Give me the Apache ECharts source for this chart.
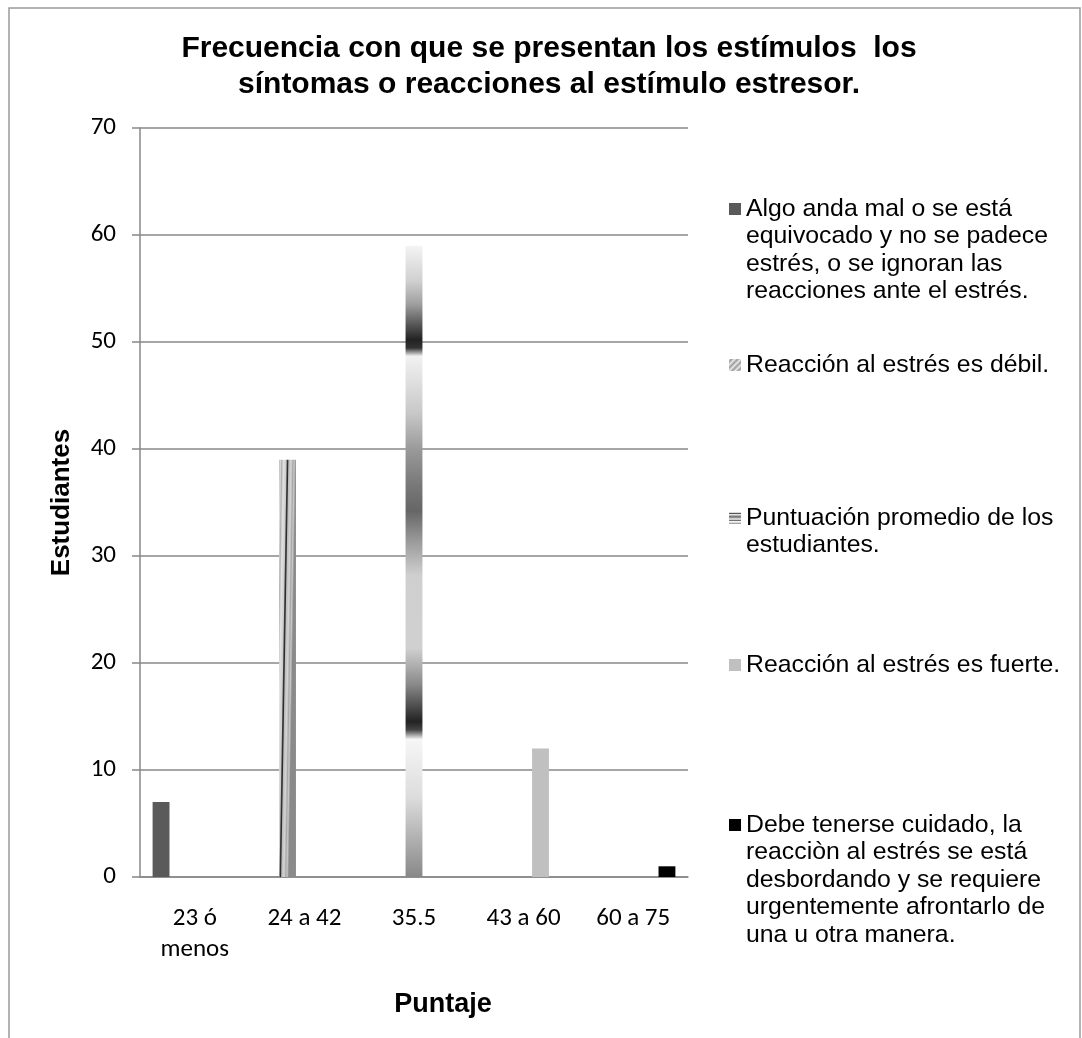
<!DOCTYPE html>
<html>
<head>
<meta charset="utf-8">
<script src="https://cdn.jsdelivr.net/npm/echarts@6/dist/echarts.min.js"></script>
<style>
  html, body { margin: 0; padding: 0; background: #ffffff; }
  #chart { width: 1082px; height: 1038px; }
</style>
</head>
<body>
<div id="chart"></div>
<script>
// Score ranges on the category axis
const categories = ['23 ó\nmenos', '24 a 42', '35.5', '43 a 60', '60 a 75'];

// Series names (one per interpretation band)
const seriesNames = [
  'Algo anda mal o se está equivocado y no se padece estrés, o se ignoran las reacciones ante el estrés.',
  'Reacción al estrés es débil.',
  'Puntuación promedio de los estudiantes.',
  'Reacción al estrés es fuerte.',
  'Debe tenerse cuidado, la reacciòn al estrés se está desbordando y se requiere urgentemente afrontarlo de una u otra manera.'
];

// Legend text broken into lines
const legendLines = [
  ['Algo anda mal o se está', 'equivocado y no se padece', 'estrés, o se ignoran las', 'reacciones ante el estrés.'],
  ['Reacción al estrés es débil.'],
  ['Puntuación promedio de los', 'estudiantes.'],
  ['Reacción al estrés es fuerte.'],
  ['Debe tenerse cuidado, la', 'reacciòn al estrés se está', 'desbordando y se requiere', 'urgentemente afrontarlo de', 'una u otra manera.']
];

// Number of students per series
const valuesAlgoAnda   = [7, null, null, null, null];
const valuesDebil      = [null, 39, null, null, null];
const valuesPromedio   = [null, null, 59, null, null];
const valuesFuerte     = [null, null, null, 12, null];
const valuesDesborda   = [null, null, null, null, 1];

// Value axis range
const yMin = 0, yMax = 70, yStep = 10;

const seriesValues = [valuesAlgoAnda, valuesDebil, valuesPromedio, valuesFuerte, valuesDesborda];

const G = echarts.graphic.LinearGradient;

// Metallic striped fill, slightly slanted
const fillDebil = new G(0, 0, 1, 0.0007, [
  { offset: 0.00, color: '#b4b4b4' },
  { offset: 0.08, color: '#dadada' },
  { offset: 0.16, color: '#b0b0b0' },
  { offset: 0.26, color: '#e2e2e2' },
  { offset: 0.42, color: '#cccccc' },
  { offset: 0.48, color: '#3a3a3a' },
  { offset: 0.52, color: '#2a2a2a' },
  { offset: 0.58, color: '#bcbcbc' },
  { offset: 0.72, color: '#d4d4d4' },
  { offset: 0.82, color: '#a8a8a8' },
  { offset: 0.90, color: '#c8c8c8' },
  { offset: 1.00, color: '#8a8a8a' }
]);

// Banded vertical fill
const fillPromedio = new G(0, 0, 0, 1, [
  { offset: 0.000, color: '#f4f4f4' },
  { offset: 0.056, color: '#d0d0d0' },
  { offset: 0.092, color: '#a0a0a0' },
  { offset: 0.149, color: '#222222' },
  { offset: 0.162, color: '#333333' },
  { offset: 0.175, color: '#f2f2f2' },
  { offset: 0.265, color: '#c8c8c8' },
  { offset: 0.322, color: '#9a9a9a' },
  { offset: 0.380, color: '#787878' },
  { offset: 0.420, color: '#666666' },
  { offset: 0.467, color: '#999999' },
  { offset: 0.522, color: '#cfcfcf' },
  { offset: 0.638, color: '#d0d0d0' },
  { offset: 0.696, color: '#888888' },
  { offset: 0.754, color: '#222222' },
  { offset: 0.767, color: '#444444' },
  { offset: 0.782, color: '#f6f6f6' },
  { offset: 0.875, color: '#dcdcdc' },
  { offset: 1.000, color: '#888888' }
]);

// Diagonal hatch for the legend key of the second series
const hatchDebil = new G(0, 0, 1, 1, [
  { offset: 0.00, color: '#e8e8e8' }, { offset: 0.12, color: '#9c9c9c' },
  { offset: 0.25, color: '#e8e8e8' }, { offset: 0.37, color: '#9c9c9c' },
  { offset: 0.50, color: '#e8e8e8' }, { offset: 0.62, color: '#9c9c9c' },
  { offset: 0.75, color: '#e8e8e8' }, { offset: 0.87, color: '#9c9c9c' },
  { offset: 1.00, color: '#e8e8e8' }
]);

const fills = ['#5a5a5a', fillDebil, fillPromedio, '#c0c0c0', '#000000'];

// First-line centre of each legend entry
const legendFirstLineY = [209, 365, 518, 665, 825];
const LINE_H = 27.5;

const legendFont = '"Liberation Sans", Arial, sans-serif';
const tickFont = 'Carlito, Lato, "Open Sans", sans-serif';

// Each entry gets its own legend so the entries can sit at their own heights.
// Blank lines before the text keep the key square level with the first line.
const legends = seriesNames.map((name, i) => {
  const n = legendLines[i].length;
  const item = { name: name, icon: 'rect' };
  if (i === 1) item.itemStyle = { color: hatchDebil };
  const padded = new Array(n - 1).fill('').concat(legendLines[i]).join('\n');
  return {
    data: [item],
    left: 729,
    top: legendFirstLineY[i] - (2 * n - 1) * LINE_H / 2,
    orient: 'vertical',
    padding: 0,
    itemWidth: 12,
    itemHeight: 12,
    itemGap: 0,
    selectedMode: false,
    formatter: () => padded,
    textStyle: {
      fontFamily: legendFont,
      fontSize: 24.8,
      color: '#000000',
      lineHeight: LINE_H
    }
  };
});

const chart = echarts.init(document.getElementById('chart'), null, { renderer: 'canvas' });

chart.setOption({
  backgroundColor: '#ffffff',
  animation: false,
  title: {
    text: 'Frecuencia con que se presentan los estímulos  los\nsíntomas o reacciones al estímulo estresor.',
    left: 549,
    textAlign: 'center',
    top: 31,
    padding: 0,
    textStyle: {
      fontFamily: legendFont,
      fontWeight: 'bold',
      fontSize: 30,
      lineHeight: 36,
      color: '#000000'
    }
  },
  legend: legends,
  grid: { left: 140, right: 394, top: 128, bottom: 161, containLabel: false },
  xAxis: {
    type: 'category',
    data: categories,
    name: 'Puntaje',
    nameLocation: 'middle',
    nameGap: 114,
    nameTextStyle: {
      fontFamily: legendFont,
      fontWeight: 'bold',
      fontSize: 27,
      color: '#000000',
      padding: [0, 0, 0, 58]
    },
    axisLine: { lineStyle: { color: '#888888', width: 1.5 } },
    axisTick: { show: false },
    axisLabel: {
      fontFamily: tickFont,
      fontSize: 25,
      color: '#000000',
      lineHeight: 31,
      margin: 26
    },
    splitLine: { show: false }
  },
  yAxis: {
    type: 'value',
    min: yMin,
    max: yMax,
    interval: yStep,
    name: 'Estudiantes',
    nameLocation: 'middle',
    nameGap: 65,
    nameTextStyle: {
      fontFamily: legendFont,
      fontWeight: 'bold',
      fontSize: 26,
      color: '#000000'
    },
    axisLine: { show: true, lineStyle: { color: '#888888', width: 1.5 } },
    axisTick: { show: true, length: 8, lineStyle: { color: '#888888', width: 1.5 } },
    axisLabel: {
      fontFamily: tickFont,
      fontSize: 25,
      color: '#000000',
      margin: 24
    },
    splitLine: { show: true, lineStyle: { color: '#888888', width: 1.5 } }
  },
  series: seriesNames.map((name, i) => ({
    name: name,
    type: 'bar',
    data: seriesValues[i],
    barGap: '0%',
    barCategoryGap: '23%',
    itemStyle: { color: fills[i] }
  })),
  graphic: [{
    type: 'rect',
    silent: true,
    z: -1,
    shape: { x: 9, y: 8, width: 1071, height: 1100 },
    style: { fill: null, stroke: '#9a9a9a', lineWidth: 1.5 }
  }]
});
</script>
</body>
</html>
